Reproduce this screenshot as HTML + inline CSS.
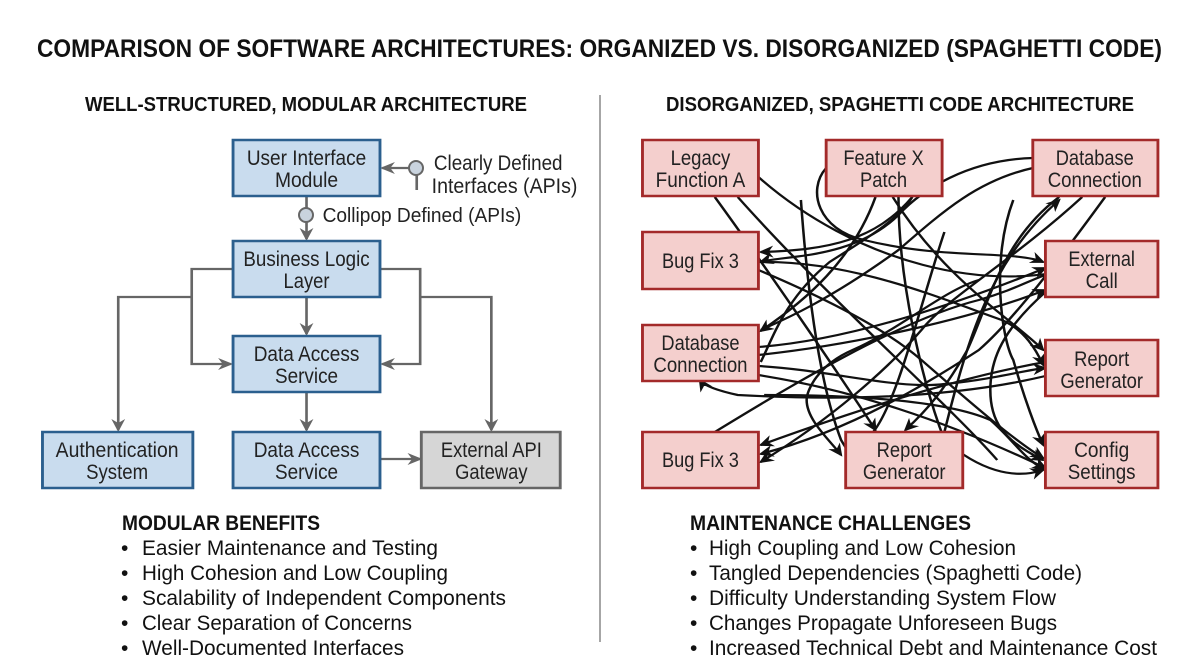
<!DOCTYPE html>
<html><head><meta charset="utf-8"><style>
html,body{margin:0;padding:0;background:#fff;}
svg{display:block;font-family:"Liberation Sans",sans-serif;}
</style></head><body>
<svg width="1200" height="670" viewBox="0 0 1200 670" xmlns="http://www.w3.org/2000/svg">
<defs>
<marker id="ag" markerWidth="14" markerHeight="14" refX="11" refY="7" orient="auto" markerUnits="userSpaceOnUse"><path d="M0,1 L13,7 L0,13 L4,7 z" fill="#666"/></marker>
<marker id="ak" markerWidth="14" markerHeight="14" refX="11" refY="7" orient="auto" markerUnits="userSpaceOnUse"><path d="M0,1 L13,7 L0,13 L4,7 z" fill="#111"/></marker>
</defs>
<rect width="1200" height="670" fill="#fff"/>
<text x="37" y="57" font-size="25" font-weight="bold" textLength="1125" lengthAdjust="spacingAndGlyphs" fill="#111">COMPARISON OF SOFTWARE ARCHITECTURES: ORGANIZED VS. DISORGANIZED (SPAGHETTI CODE)</text>
<text x="85" y="111" font-size="20" font-weight="bold" textLength="442" lengthAdjust="spacingAndGlyphs" fill="#111">WELL-STRUCTURED, MODULAR ARCHITECTURE</text>
<text x="666" y="111" font-size="20" font-weight="bold" textLength="468" lengthAdjust="spacingAndGlyphs" fill="#111">DISORGANIZED, SPAGHETTI CODE ARCHITECTURE</text>
<line x1="600" y1="95" x2="600" y2="642" stroke="#888" stroke-width="1.5"/>

<g transform="scale(1.148,1)">
<g stroke="#666" stroke-width="2.3" fill="none">
<line x1="267" y1="196" x2="267" y2="239" marker-end="url(#ag)"/>
<line x1="267" y1="297" x2="267" y2="334" marker-end="url(#ag)"/>
<line x1="267" y1="392" x2="267" y2="430" marker-end="url(#ag)"/>
<path d="M203,269 H167 V364 H201" marker-end="url(#ag)"/>
<path d="M331,269 H366 V364 H333" marker-end="url(#ag)"/>
<path d="M167,297 H103 V430" marker-end="url(#ag)"/>
<path d="M366,297 H428 V430" marker-end="url(#ag)"/>
<line x1="331" y1="459" x2="366" y2="459" marker-end="url(#ag)"/>
<line x1="357" y1="168" x2="333" y2="168" marker-end="url(#ag)"/>
<line x1="363" y1="175" x2="363" y2="190"/>
</g>
<text x="378" y="170" font-size="21" fill="#222" textLength="112" lengthAdjust="spacingAndGlyphs">Clearly Defined</text>
<text x="376" y="193" font-size="21" fill="#222" textLength="127" lengthAdjust="spacingAndGlyphs">Interfaces (APIs)</text>
<text x="281" y="222" font-size="20" fill="#222" textLength="173" lengthAdjust="spacingAndGlyphs">Collipop Defined (APIs)</text>

<g stroke="#2b5f8e" stroke-width="2.5" fill="#c9dcee">
<rect x="203" y="140" width="128" height="56"/>
<rect x="203" y="241" width="128" height="56"/>
<rect x="203" y="336" width="128" height="56"/>
<rect x="37" y="432" width="131" height="56"/>
<rect x="203" y="432" width="128" height="56"/>
</g>
<rect x="367" y="432" width="121" height="56" fill="#d6d6d6" stroke="#666" stroke-width="2.5"/>
<g font-size="21" fill="#222" text-anchor="middle">
<text x="267" y="165" textLength="104" lengthAdjust="spacingAndGlyphs">User Interface</text><text x="267" y="187" textLength="55" lengthAdjust="spacingAndGlyphs">Module</text>
<text x="267" y="266" textLength="110" lengthAdjust="spacingAndGlyphs">Business Logic</text><text x="267" y="288" textLength="40" lengthAdjust="spacingAndGlyphs">Layer</text>
<text x="267" y="361" textLength="92" lengthAdjust="spacingAndGlyphs">Data Access</text><text x="267" y="383" textLength="55" lengthAdjust="spacingAndGlyphs">Service</text>
<text x="102" y="457" textLength="107" lengthAdjust="spacingAndGlyphs">Authentication</text><text x="102" y="479" textLength="54" lengthAdjust="spacingAndGlyphs">System</text>
<text x="267" y="457" textLength="92" lengthAdjust="spacingAndGlyphs">Data Access</text><text x="267" y="479" textLength="55" lengthAdjust="spacingAndGlyphs">Service</text>
<text x="428" y="457" textLength="88" lengthAdjust="spacingAndGlyphs">External API</text><text x="428" y="479" textLength="63" lengthAdjust="spacingAndGlyphs">Gateway</text>
</g>
</g>
<circle cx="416" cy="168" r="7" fill="#c9d3de" stroke="#666" stroke-width="2"/>
<circle cx="306" cy="215" r="7" fill="#c9d3de" stroke="#666" stroke-width="2"/>

<g transform="translate(600,0) scale(1.148,1) translate(-600,0)">
<g stroke="#111" stroke-width="2.2" fill="none">
<path d="M738,177 C820,260 940,300 1032,262" marker-end="url(#ak)"/>
<path d="M720,197 C800,300 900,400 946,460" />
<path d="M872,197 C840,240 800,250 740,252" marker-end="url(#ak)"/>
<path d="M840,197 C820,260 780,300 740,331" marker-end="url(#ak)"/>
<path d="M860,197 C860,280 880,380 900,440 C930,470 960,480 986,470" marker-end="url(#ak)"/>
<path d="M855,197 C900,280 960,320 986,350" marker-end="url(#ak)"/>
<path d="M797,168 C780,190 790,230 830,240 C900,260 960,250 986,262" marker-end="url(#ak)"/>
<path d="M977,158 C920,160 880,190 860,215 C820,260 760,255 740,262" marker-end="url(#ak)"/>
<path d="M977,168 C930,180 900,210 860,250 C800,300 760,320 740,330" />
<path d="M738,262 C820,260 900,300 950,320 C970,330 980,350 986,365" marker-end="url(#ak)"/>
<path d="M738,270 C800,300 850,330 880,360 C920,400 960,440 986,458" marker-end="url(#ak)"/>
<path d="M738,347 C820,340 920,300 988,268" marker-end="url(#ak)"/>
<path d="M738,355 C820,345 920,320 988,290" marker-end="url(#ak)"/>
<path d="M738,366 C800,370 860,390 900,384 C940,380 970,370 988,368" marker-end="url(#ak)"/>
<path d="M738,375 C820,390 900,420 988,468" marker-end="url(#ak)"/>
<path d="M988,376 C900,400 800,400 720,395 C700,390 690,385 687,380" marker-end="url(#ak)"/>
<path d="M988,362 C900,380 800,420 740,445" marker-end="url(#ak)"/>
<path d="M700,432 C760,390 860,320 930,300 C960,290 975,280 988,275" />
<path d="M930,280 C900,290 860,330 820,350 C790,365 780,390 780,400 C780,420 800,440 810,455" marker-end="url(#ak)"/>
<path d="M775,200 C780,280 790,380 810,440 C820,460 825,462 835,462" marker-end="url(#ak)"/>
<path d="M700,197 C740,260 800,360 840,430" marker-end="url(#ak)"/>
<path d="M900,432 C920,340 940,260 1000,200" marker-end="url(#ak)"/>
<path d="M1000,197 C950,240 940,300 920,350 C900,390 885,410 866,430" marker-end="url(#ak)"/>
<path d="M1040,197 C1000,260 960,320 930,350 C890,380 820,430 740,454" marker-end="url(#ak)"/>
<path d="M1020,197 C960,260 900,300 880,330 C850,370 800,420 740,462" marker-end="url(#ak)"/>
<path d="M960,200 C940,260 950,340 960,360 C970,400 980,430 986,445" marker-end="url(#ak)"/>
<path d="M990,290 C950,330 940,360 940,390 C940,420 950,440 986,460" marker-end="url(#ak)"/>
<path d="M743,395 C820,395 900,400 940,420 C960,440 970,460 988,470" marker-end="url(#ak)"/>
<path d="M900,232 C880,300 860,400 838,432"/>
<path d="M872,197 C860,220 830,240 800,262 C760,300 750,340 740,362"/>
</g>

<g stroke="#a32a2a" stroke-width="2.5" fill="#f4cfcd">
<rect x="637" y="140" width="101" height="56"/>
<rect x="797" y="140" width="101" height="56"/>
<rect x="977" y="140" width="109" height="56"/>
<rect x="637" y="232" width="101" height="57"/>
<rect x="988" y="241" width="98" height="56"/>
<rect x="637" y="325" width="101" height="56"/>
<rect x="988" y="340" width="98" height="56"/>
<rect x="637" y="432" width="101" height="56"/>
<rect x="814" y="432" width="102" height="56"/>
<rect x="988" y="432" width="98" height="56"/>
</g>
<g font-size="21" fill="#222" text-anchor="middle">
<text x="687.5" y="165" textLength="52" lengthAdjust="spacingAndGlyphs">Legacy</text><text x="687.5" y="187" textLength="78" lengthAdjust="spacingAndGlyphs">Function A</text>
<text x="847" y="165" textLength="70" lengthAdjust="spacingAndGlyphs">Feature X</text><text x="847" y="187" textLength="41" lengthAdjust="spacingAndGlyphs">Patch</text>
<text x="1031" y="165" textLength="68" lengthAdjust="spacingAndGlyphs">Database</text><text x="1031" y="187" textLength="82" lengthAdjust="spacingAndGlyphs">Connection</text>
<text x="687.5" y="268" textLength="67" lengthAdjust="spacingAndGlyphs">Bug Fix 3</text>
<text x="1037" y="266" textLength="58" lengthAdjust="spacingAndGlyphs">External</text><text x="1037" y="288" textLength="28" lengthAdjust="spacingAndGlyphs">Call</text>
<text x="687.5" y="350" textLength="68" lengthAdjust="spacingAndGlyphs">Database</text><text x="687.5" y="372" textLength="82" lengthAdjust="spacingAndGlyphs">Connection</text>
<text x="1037" y="366" textLength="48" lengthAdjust="spacingAndGlyphs">Report</text><text x="1037" y="388" textLength="72" lengthAdjust="spacingAndGlyphs">Generator</text>
<text x="687.5" y="467" textLength="67" lengthAdjust="spacingAndGlyphs">Bug Fix 3</text>
<text x="865" y="457" textLength="48" lengthAdjust="spacingAndGlyphs">Report</text><text x="865" y="479" textLength="72" lengthAdjust="spacingAndGlyphs">Generator</text>
<text x="1037" y="457" textLength="48" lengthAdjust="spacingAndGlyphs">Config</text><text x="1037" y="479" textLength="59" lengthAdjust="spacingAndGlyphs">Settings</text>
</g>
</g>

<g font-size="21" fill="#111">
<text x="122" y="530" font-weight="bold" textLength="198" lengthAdjust="spacingAndGlyphs">MODULAR BENEFITS</text>
<text x="121" y="555">•</text><text x="142" y="555" textLength="296" lengthAdjust="spacingAndGlyphs">Easier Maintenance and Testing</text>
<text x="121" y="580">•</text><text x="142" y="580" textLength="306" lengthAdjust="spacingAndGlyphs">High Cohesion and Low Coupling</text>
<text x="121" y="605">•</text><text x="142" y="605" textLength="364" lengthAdjust="spacingAndGlyphs">Scalability of Independent Components</text>
<text x="121" y="630">•</text><text x="142" y="630" textLength="270" lengthAdjust="spacingAndGlyphs">Clear Separation of Concerns</text>
<text x="121" y="655">•</text><text x="142" y="655" textLength="262" lengthAdjust="spacingAndGlyphs">Well-Documented Interfaces</text>
<text x="690" y="530" font-weight="bold" textLength="281" lengthAdjust="spacingAndGlyphs">MAINTENANCE CHALLENGES</text>
<text x="690" y="555">•</text><text x="709" y="555" textLength="307" lengthAdjust="spacingAndGlyphs">High Coupling and Low Cohesion</text>
<text x="690" y="580">•</text><text x="709" y="580" textLength="373" lengthAdjust="spacingAndGlyphs">Tangled Dependencies (Spaghetti Code)</text>
<text x="690" y="605">•</text><text x="709" y="605" textLength="347" lengthAdjust="spacingAndGlyphs">Difficulty Understanding System Flow</text>
<text x="690" y="630">•</text><text x="709" y="630" textLength="348" lengthAdjust="spacingAndGlyphs">Changes Propagate Unforeseen Bugs</text>
<text x="690" y="655">•</text><text x="709" y="655" textLength="448" lengthAdjust="spacingAndGlyphs">Increased Technical Debt and Maintenance Cost</text>
</g>
</svg>
</body></html>
